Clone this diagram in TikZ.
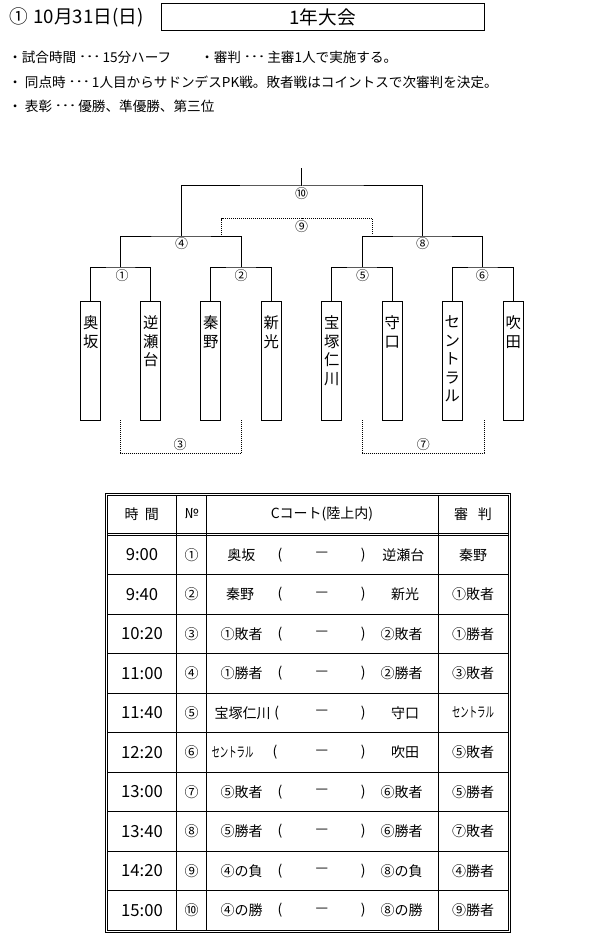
\documentclass[tikz,border=0pt]{standalone}
\usepackage{fontspec}
\usepackage{graphicx}
\setmainfont{Noto Sans CJK JP}
\newcommand\narrowsc{\scalebox{0.6}[1]{セントラル}}
\newcommand\myell{\raisebox{0.32em}{\scalebox{1.4}[1]{…}}}
\begin{document}
\begin{tikzpicture}[x=0.75pt,y=-0.75pt,
  ln/.style={line width=0.75pt},
  dots/.style={line width=0.75pt, dash pattern=on 0.75pt off 0.75pt},
  teambox/.style={draw, line width=0.75pt, minimum width=15pt, minimum height=89.5pt, inner sep=0pt, anchor=north},
  vname/.style={font=\fontsize{11.5pt}{13.9pt}\selectfont, align=center, inner sep=0pt, anchor=north},
  rnd/.style={font=\fontsize{9.75pt}{10pt}\selectfont, inner sep=0pt},
  hdr/.style={font=\fontsize{14pt}{15pt}\selectfont, inner sep=0pt},
  note/.style={font=\fontsize{10.2pt}{12pt}\selectfont, inner sep=0pt, anchor=west},
  cell/.style={font=\fontsize{10.5pt}{12pt}\selectfont, inner sep=0pt},
  tmcell/.style={font=\fontsize{12.5pt}{14pt}\selectfont, inner sep=0pt},
]
\useasboundingbox (0,0) rectangle (594,941);

% ---- heading ----
\node[hdr, anchor=west] (date) at (9,17) {①\hspace{0.3em}10月31日(日)};
\node[hdr, draw, ln, minimum width=242.25pt, minimum height=20.25pt] (title) at (322.5,17.5) {1年大会};
\node[note] (b1) at (8,57) {・試合時間 \myell\ 15分ハーフ};
\node[note] (b2) at (200,57) {・審判 \myell\ 主審1人で実施する。};
\node[note] (b3) at (8,82) {・ 同点時 \myell\ 1人目からサドンデスPK戦。敗者戦はコイントスで次審判を決定。};
\node[note] (b4) at (8,106) {・ 表彰 \myell\ 優勝、準優勝、第三位};

% ---- teams ----
\node[teambox] (t1) at (90.7,300.7) {};
\node[teambox] (t2) at (150.7,300.7) {};
\node[teambox] (t3) at (210.7,300.7) {};
\node[teambox] (t4) at (271.3,300.7) {};
\node[teambox] (t5) at (331.7,300.7) {};
\node[teambox] (t6) at (392.3,300.7) {};
\node[teambox] (t7) at (452.3,300.7) {};
\node[teambox] (t8) at (513.3,300.7) {};
\node[vname] (n1) at (90.7,315.5) {奥\\坂};
\node[vname] (n2) at (150.7,315.5) {逆\\瀬\\台};
\node[vname] (n3) at (210.7,315.5) {秦\\野};
\node[vname] (n4) at (271.3,315.5) {新\\光};
\node[vname] (n5) at (331.7,315.5) {宝\\塚\\仁\\川};
\node[vname] (n6) at (392.3,315.5) {守\\口};
\node[vname] (n7) at (452.3,315.5) {セ\\ン\\ト\\ラ\\ル};
\node[vname] (n8) at (513.3,315.5) {吹\\田};

% ---- bracket ----
\coordinate (m1) at (120.7,267);
\coordinate (m2) at (241,267);
\coordinate (m5) at (362,267);
\coordinate (m6) at (482.8,267);
\coordinate (m4) at (181.2,236);
\coordinate (m8) at (422.4,236);
\coordinate (m10) at (301.8,186);
\coordinate (top) at (301.8,168);
\draw[ln] (t1.north) |- (m1) -| (t2.north);
\draw[ln] (t3.north) |- (m2) -| (t4.north);
\draw[ln] (t5.north) |- (m5) -| (t6.north);
\draw[ln] (t7.north) |- (m6) -| (t8.north);
\draw[ln] (m1) |- (m4) -| (m2);
\draw[ln] (m5) |- (m8) -| (m6);
\draw[ln] (m4) |- (m10) -| (m8);
\draw[ln] (m10) -- (top);
\coordinate (d9a) at (221.7,235);
\coordinate (d9m) at (301.8,218.7);
\coordinate (d9b) at (372.7,235);
\draw[dots] (d9a) |- (d9m) -| (d9b);
\coordinate (d3a) at (120.7,420);
\coordinate (d3m) at (181.2,453);
\coordinate (d3b) at (241.7,420);
\draw[dots] (d3a) |- (d3m) -| (d3b);
\coordinate (d7a) at (362.7,420);
\coordinate (d7m) at (423.3,453);
\coordinate (d7b) at (484,420);
\draw[dots] (d7a) |- (d7m) -| (d7b);

\node[rnd] (r1) at (122,276) {①};
\node[rnd] (r2) at (241,276) {②};
\node[rnd] (r5) at (362.7,276) {⑤};
\node[rnd] (r6) at (482.3,276) {⑥};
\node[rnd] (r4) at (181.7,243.3) {④};
\node[rnd] (r8) at (422.7,243.3) {⑧};
\node[rnd] (r9) at (301.7,226.7) {⑨};
\node[rnd] (r10) at (301.7,194) {⑩};
\node[rnd] (r3) at (180,445) {③};
\node[rnd] (r7) at (423.3,445) {⑦};

% ---- table ----
\draw[ln] (105,493) rectangle (510,932);
\draw[ln] (107,495) rectangle (508,930);
\draw[ln] (107,533) -- (508,533);
\draw[ln] (107,535) -- (508,535);
\foreach \xx in {176.7,206.7,438} \draw[ln] (\xx,495) -- (\xx,930);
\foreach \k in {1,...,9} \draw[ln] (107,535+39.5*\k) -- (508,535+39.5*\k);

\node[cell] (h1) at (141.7,514) {時\hspace{0.45em}間};
\node[cell] (h2) at (191.7,514) {№};
\node[cell] (h3) at (322,514) {Cコート(陸上内)};
\node[cell] (h4) at (473,514) {審\hspace{0.7em}判};

\foreach \i/\t/\n/\a/\ax/\px/\b/\bx/\r in {
  1/9:00/①/奥坂/241.3/280/逆瀬台/403.3/秦野,
  2/9:40/②/秦野/240/280/新光/405/①敗者,
  3/10:20/③/①敗者/241.7/280/②敗者/401.7/①勝者,
  4/11:00/④/①勝者/241.7/280/②勝者/401.7/③敗者,
  5/11:40/⑤/宝塚仁川/242.5/276.7/守口/405/{\narrowsc},
  6/12:20/⑥/{\narrowsc}/232.5/275/吹田/405/⑤敗者,
  7/13:00/⑦/⑤敗者/241.7/280/⑥敗者/401.7/⑤勝者,
  8/13:40/⑧/⑤勝者/241.7/280/⑥勝者/401.7/⑦敗者,
  9/14:20/⑨/④の負/241.7/280/⑧の負/401.7/④勝者,
  10/15:00/⑩/④の勝/241.7/280/⑧の勝/401.7/⑨勝者}{
  \pgfmathsetmacro\yy{535+39.5*(\i-0.5)}
  \node[tmcell] (tm\i) at (142,\yy) {\t};
  \node[cell] (no\i) at (191.7,\yy) {\n};
  \node[cell] (a\i) at (\ax,\yy) {\a};
  \node[cell] (lp\i) at (\px,\yy) {(};
  \node[cell] (ds\i) at (322,\yy) {—};
  \node[cell] (rp\i) at (363.3,\yy) {)};
  \node[cell] (b\i) at (\bx,\yy) {\b};
  \node[cell] (ref\i) at (473,\yy) {\r};
}
\end{tikzpicture}
\end{document}
